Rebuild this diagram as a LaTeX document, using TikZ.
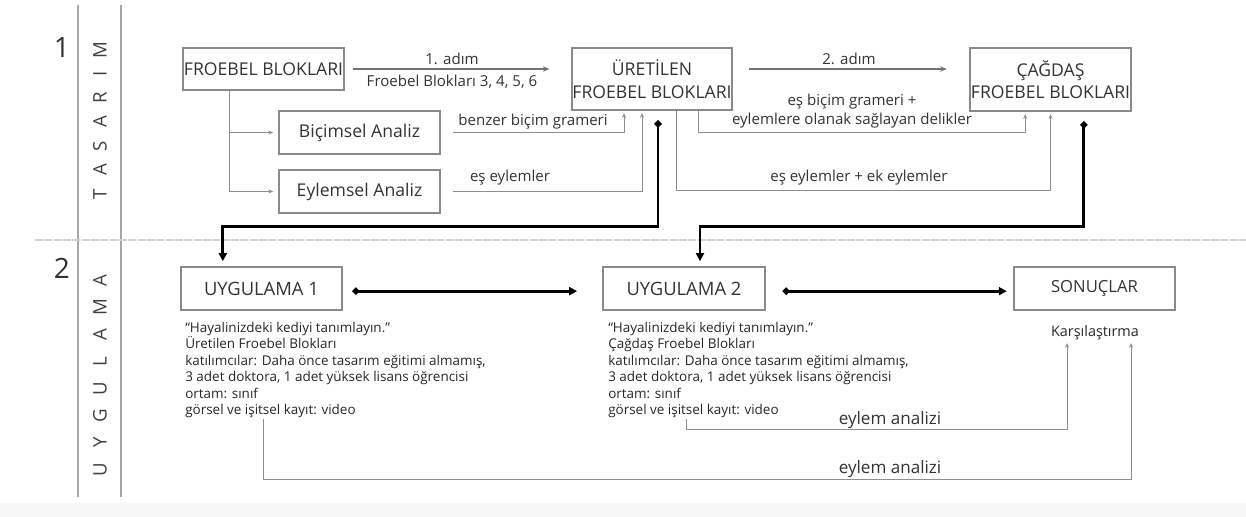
\documentclass[tikz,border=0pt]{standalone}
\usepackage{fontspec}
\setmainfont{Open Sans}
\usetikzlibrary{arrows.meta}
\definecolor{txt}{HTML}{333333}
\definecolor{bord}{HTML}{8A8A8A}
\definecolor{thinline}{HTML}{8F8F8F}
\newcommand{\lettbox}[2]{\makebox[#1]{#2}}
\begin{document}
\begin{tikzpicture}[x=0.75pt,y=-0.75pt,
  box/.style={draw=bord,line width=0.8pt,rectangle,inner sep=0pt,text=txt,font=\fontsize{13.2}{15}\selectfont,align=center},
  bigbox/.style={box,font=\fontsize{13.8}{17}\selectfont},
  thinarr/.style={draw=thinline,line width=0.7pt,-{Stealth[length=3.5pt,width=3pt]}},
  stepline/.style={draw=gray!90!black,line width=1.6pt,-{Stealth[length=5pt,width=4pt]}},
  thickarr/.style={draw=black,line width=2.2pt,{Circle[length=5pt]}-{Triangle[length=6pt,width=6pt]}},
  lbl/.style={text=txt,font=\fontsize{11.3}{14.3}\selectfont,inner sep=1pt},
  info/.style={text=black!85,font=\fontsize{10.1}{12.3}\selectfont,align=left,inner sep=0pt,anchor=north west},
  sidelbl/.style={text=black!75,font=\fontsize{14}{16}\selectfont,rotate=90},
  numlbl/.style={text=txt,font=\fontsize{21}{24}\selectfont}
]
\useasboundingbox (0,0) rectangle (1246,517);
\fill[gray!6] (0,503) rectangle (1246,517);
% frame lines
\draw[gray!70,line width=0.8pt] (78,5) -- (78,497);
\draw[gray!70,line width=0.8pt] (121,5) -- (121,497);
\draw[gray!35,line width=1pt,dash pattern=on 6pt off 1pt] (35,240) -- (1246,240);
% side labels
\node[numlbl] (n1) at (62,48) {1};
\node[numlbl] (n2) at (62,268) {2};
\node[sidelbl] (tas) at (100,122) {\lettbox{18pt}{T}\lettbox{18pt}{A}\lettbox{18pt}{S}\lettbox{18pt}{A}\lettbox{18pt}{R}\lettbox{18pt}{I}\lettbox{18pt}{M}};
\node[sidelbl] (uyg) at (100,375) {\lettbox{20.3pt}{U}\lettbox{20.3pt}{Y}\lettbox{20.3pt}{G}\lettbox{20.3pt}{U}\lettbox{20.3pt}{L}\lettbox{20.3pt}{A}\lettbox{20.3pt}{M}\lettbox{20.3pt}{A}};
% boxes
\node[box,minimum width=120.75pt,minimum height=31.5pt] (fb) at (263.5,69) {FROEBEL BLOKLARI};
\node[box,minimum width=120.75pt,minimum height=32.25pt] (bi) at (359.5,132.5) {Biçimsel Analiz};
\node[box,minimum width=120.75pt,minimum height=32.25pt] (ey) at (359.5,191.5) {Eylemsel Analiz};
\node[box,minimum width=120pt,minimum height=46.5pt] (ur) at (652,79) {ÜRETİLEN\\[2pt]FROEBEL BLOKLARI};
\node[box,minimum width=120.75pt,minimum height=47.25pt] (cg) at (1050.5,79.5) {ÇAĞDAŞ\\[2pt]FROEBEL BLOKLARI};
\node[bigbox,minimum width=120.75pt,minimum height=32.25pt] (u1) at (261.5,288.5) {UYGULAMA 1};
\node[bigbox,minimum width=121.5pt,minimum height=32.25pt] (u2) at (684,288.5) {UYGULAMA 2};
\node[box,minimum width=120.75pt,minimum height=32.25pt,font=\fontsize{12.5}{15}\selectfont] (son) at (1094.5,288.5) {SONUÇLAR};
% info texts
\node[info] (t1) at (185,322) {“Hayalinizdeki kediyi tanımlayın.”\\Üretilen Froebel Blokları\\katılımcılar: Daha önce tasarım eğitimi almamış,\\3 adet doktora, 1 adet yüksek lisans öğrencisi\\ortam: sınıf\\görsel ve işitsel kayıt: video};
\node[info] (t2) at (608,322) {“Hayalinizdeki kediyi tanımlayın.”\\Çağdaş Froebel Blokları\\katılımcılar: Daha önce tasarım eğitimi almamış,\\3 adet doktora, 1 adet yüksek lisans öğrencisi\\ortam: sınıf\\görsel ve işitsel kayıt: video};
\node[text=black!85,font=\fontsize{10.8}{12}\selectfont,inner sep=1pt] (k) at (1095,333) {Karşılaştırma};
% step arrows
\draw[stepline] ([xshift=6pt]fb.east) -- ([xshift=-16.5pt]ur.west |- fb.east);
\node[lbl] (s1a) at (452,59) {1. adım};
\node[lbl] (s1b) at (452,82) {Froebel Blokları 3, 4, 5, 6};
\draw[stepline] ([xshift=12pt]ur.east |- fb.east) -- ([xshift=-17pt]cg.west |- fb.east);
\node[lbl] (s2a) at (849,59) {2. adım};
% branches from FROEBEL
\draw[thinarr] ([xshift=-25.9pt]fb.south) |- ([xshift=-4pt]bi.west);
\draw[thinarr] ([xshift=-25.9pt]fb.south) |- ([xshift=-4pt]ey.west);
% analyses to URETILEN
\draw[thinarr,shorten >=2pt] ([xshift=9pt]bi.east) -| ([xshift=-21pt]ur.south);
\node[lbl] (l1) at (533,122) {benzer biçim grameri};
\draw[thinarr,shorten >=2pt] ([xshift=9pt]ey.east) -| ([xshift=-7.5pt]ur.south);
\node[lbl] (l2) at (510,178) {eş eylemler};
% URETILEN to CAGDAS
\draw[thinarr,shorten >=2pt] ([xshift=34.5pt]ur.south) -- ++(0,22) -| ([xshift=-19pt]cg.south);
\node[lbl,align=center] (l3) at (852,111.5) {eş biçim grameri +\\eylemlere olanak sağlayan delikler};
\draw[thinarr,shorten >=2pt] ([xshift=18pt]ur.south) -- ++(0,80) -| ([xshift=0pt]cg.south);
\node[lbl] (l4) at (859,178) {eş eylemler + ek eylemler};
% thick connectors to applications
\draw[thickarr] ([xshift=4.5pt,yshift=-7.5pt]ur.south) -- ++(0,106) -| ([xshift=-29pt,yshift=4pt]u1.north);
\draw[thickarr] ([xshift=25pt,yshift=-7.5pt]cg.south) -- ++(0,105) -| ([xshift=12pt,yshift=4pt]u2.north);
\draw[thickarr] ([xshift=7.5pt,yshift=-2pt]u1.east) -- ([xshift=-19pt,yshift=-2pt]u2.west);
\draw[thickarr] ([xshift=13pt,yshift=-2pt]u2.east) -- ([xshift=-5pt,yshift=-2pt]son.west);
% eylem analizi
\draw[thinarr,shorten >=1pt] ([xshift=58.5pt,yshift=-1pt]t2.south west) -- ++(0,10) -| ([xshift=-21pt]k.south);
\node[lbl,font=\fontsize{12.8}{15}\selectfont] (e1) at (890,420) {eylem analizi};
\draw[thinarr,shorten >=1pt] ([xshift=58.5pt,yshift=-1pt]t1.south west) -- ++(0,60) -| ([xshift=27pt]k.south);
\node[lbl,font=\fontsize{12.8}{15}\selectfont] (e2) at (890,469) {eylem analizi};
\end{tikzpicture}
\end{document}
